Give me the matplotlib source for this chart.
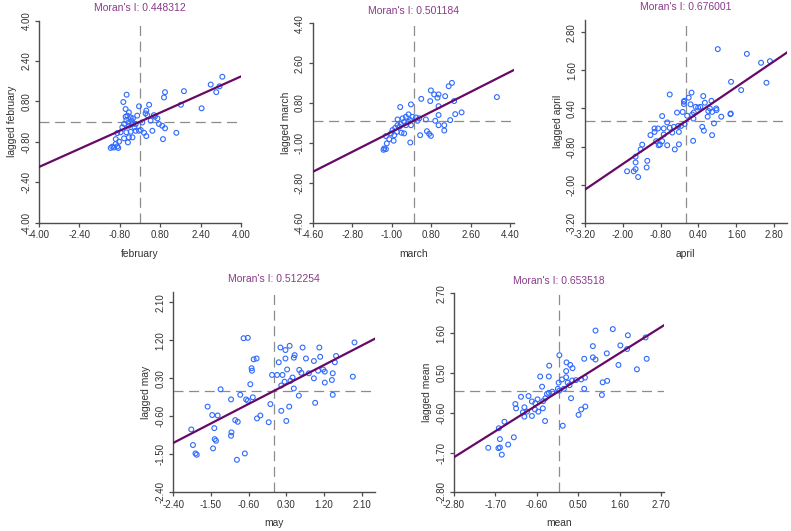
import numpy as np
import matplotlib
matplotlib.use("Agg")
import matplotlib.pyplot as plt

plt.rcParams['font.family'] = ['Liberation Sans', 'DejaVu Sans']

# ---------------- data ----------------
variables = ["february", "march", "april", "may", "mean"]
moran_i = [0.448312, 0.501184, 0.676001, 0.512254, 0.653518]

feb_x = [3.26, 2.80, 3.15, 3.02, 1.74, 0.99, 0.95, -0.53, -0.66, -0.04, 0.36, 2.44, 1.62, -0.57,
         -0.44, 0.25, 0.22, 0.29, 0.55, 0.69, 0.42, -0.57, -0.54, -0.37, -0.28, -0.11, -0.46, -0.63,
         -0.44, -0.30, -0.17, 0.75, 0.88, 0.99, 0.49, 0.03, -0.04, -0.17, -0.37, -0.54, -0.77, -0.90,
         0.16, 0.25, 1.44, -0.44, -0.30, -0.63, -0.48, 0.91, -0.83, -0.96, -0.90, -1.03, -1.16, -1.10,
         -0.86, -0.96, -0.50, -0.33, -0.70, -0.22, 0.09, 0.59]
feb_y = [1.78, 1.47, 1.40, 1.17, 1.21, 1.17, 0.96, 1.07, 0.78, 0.61, 0.67, 0.53, 0.67, 0.50,
         0.37, 0.44, 0.33, 0.26, 0.26, 0.13, 0.04, 0.20, 0.07, 0.17, 0.13, 0.24, -0.03, -0.09,
         -0.16, -0.09, -0.09, -0.09, -0.16, -0.26, -0.36, -0.33, -0.36, -0.36, -0.40, -0.42, -0.42, -0.45,
         -0.44, -0.57, -0.44, -0.62, -0.62, -0.66, -0.82, -0.69, -0.79, -0.88, -0.98, -1.02, -1.04, -0.99,
         -1.04, -0.69, 0.24, 0.04, -0.22, -0.22, -0.03, 0.20]

mar_x = [1.75, 1.60, 0.79, 0.94, 1.14, 1.09, 1.44, 0.76, 0.35, 3.80, 1.85, -0.61, -0.12, 1.14,
         2.19, 1.90, 1.14, 1.67, 0.99, 0.56, 0.26, 0.11, -0.05, -0.23, -0.35, -0.50, -0.73, -0.43,
         -0.24, -0.12, -0.35, -0.58, -0.73, -0.96, -0.76, -0.55, -0.43, -0.88, -1.03, -1.26, -1.11,
         -0.91, -1.22, -1.34, -1.26, -1.37, -0.15, 0.30, 0.61, 0.71, 0.79, 1.40, 1.40, 1.14, 0.18,
         -0.15, -0.65, -0.84]
mar_y = [1.71, 1.56, 1.37, 1.19, 1.19, 1.04, 1.11, 0.89, 0.99, 1.07, 0.89, 0.62, 0.74, 0.66,
         0.38, 0.30, 0.26, 0.03, 0.00, 0.06, 0.11, 0.15, 0.18, 0.29, 0.18, 0.11, 0.06, -0.05,
         -0.05, -0.20, -0.20, -0.15, -0.20, -0.42, -0.50, -0.54, -0.57, -0.65, -0.57, -0.69, -0.83,
         -0.90, -1.02, -1.25, -1.28, -1.31, -0.98, -0.65, -0.47, -0.59, -0.68, -0.20, -0.44, -0.20, 0.00,
         0.03, -0.27, -0.32]

apr_x = [1.01, 1.93, 2.38, 2.66, 2.55, 1.43, 1.75, -0.51, 0.18, 0.09, -0.06, -0.06, -0.05, 0.55,
         0.60, 0.81, 0.15, 0.31, 0.39, 0.46, 0.76, 0.96, 0.97, 0.71, 0.83, 0.25, 0.20, 0.69, 1.12,
         1.42, 1.41, 0.89, 0.24, 0.04, -0.28, -0.10, -0.75, -0.59, -0.51, -0.38, -0.24, -0.15, -0.04,
         -0.70, -0.88, -0.99, -0.99, -1.12, -0.70, -0.43, -0.22, 0.52, 0.57, 0.83, 0.23, -0.22, -0.35,
         -0.59, -0.86, -0.94, -0.75, -0.82, -1.38, -1.43, -1.59, -1.59, -1.22, -1.24, -1.59, -1.86,
         -1.65, -1.51]
apr_y = [2.27, 2.12, 1.84, 1.89, 1.21, 1.24, 0.98, 0.84, 0.90, 0.74, 0.61, 0.54, 0.64, 0.79,
         0.58, 0.64, 0.53, 0.45, 0.43, 0.45, 0.40, 0.40, 0.35, 0.32, 0.29, 0.27, 0.21, 0.14, 0.14,
         0.24, 0.22, -0.07, 0.08, 0.17, 0.27, 0.29, 0.16, -0.04, -0.21, -0.18, -0.15, -0.15, -0.09,
         -0.23, -0.23, -0.23, -0.34, -0.44, -0.42, -0.36, -0.34, -0.18, -0.30, -0.44, -0.62, -0.73, -0.89,
         -0.76, -0.76, -0.63, -0.63, -0.74, -0.74, -0.89, -1.12, -1.30, -1.25, -1.46, -1.51, -1.58,
         -1.58, -1.76]

may_x = [-0.72, -0.62, 1.93, 0.16, 0.28, 0.38, 0.69, 1.09, 0.50, 0.48, 0.28, 0.77, 1.11, 1.49,
         0.96, 1.46, 0.12, -0.48, -0.41, -0.53, -0.52, 0.32, 0.61, 0.66, 0.84, 1.06, 1.18, 1.22,
         1.41, 1.89, -0.04, 0.08, 0.21, 0.45, 0.96, 0.40, 0.26, 1.22, 1.39, -0.56, 0.18, 0.48,
         -1.27, -0.80, -1.02, -0.66, -0.50, -0.62, 0.60, 1.41, 0.99, -0.08, -1.58, -1.47, -1.34,
         0.37, 0.18, -0.92, -0.86, -0.40, -0.32, -0.12, 0.30, -1.97, -1.42, -1.01, -1.02, -1.41,
         -1.38, -1.93, -1.45, -1.87, -1.84, -0.69, -0.88]
may_y = [1.25, 1.26, 1.15, 1.03, 0.97, 1.07, 1.03, 1.03, 0.85, 0.79, 0.77, 0.77, 0.81, 0.83,
         0.71, 0.68, 0.68, 0.75, 0.77, 0.54, 0.48, 0.51, 0.50, 0.43, 0.42, 0.48, 0.51, 0.46,
         0.42, 0.34, 0.38, 0.38, 0.38, 0.32, 0.30, 0.24, 0.22, 0.20, 0.26, 0.16, 0.13, 0.06,
         0.04, -0.09, -0.20, -0.20, -0.15, -0.23, -0.11, -0.09, -0.28, -0.31, -0.37, -0.57, -0.58,
         -0.37, -0.47, -0.69, -0.73, -0.65, -0.58, -0.74, -0.71, -0.91, -0.88, -0.98, -1.06, -1.14,
         -1.18, -1.28, -1.36, -1.48, -1.51, -1.48, -1.63]

mean_x = [0.96, 1.42, 1.82, 2.29, 0.89, 1.62, 1.80, 1.26, 2.32, 0.00, 0.66, 0.89, 0.96, 1.57,
          2.06, -0.27, 0.19, 0.29, 0.35, 0.18, -0.51, -0.28, 0.18, 0.07, -0.02, 0.22, 0.34, 0.44,
          0.58, 0.68, 1.15, 1.27, 0.66, -0.46, 0.27, 0.12, -0.04, 0.00, -0.19, -0.28, -0.33, 1.13,
          0.31, -1.02, -0.82, -0.58, -0.37, -0.43, -0.73, -0.64, -1.17, -1.15, -0.93, -0.86, -0.65,
          -0.56, -0.44, -0.97, -0.93, -0.73, 0.58, 0.69, 0.51, -0.38, -1.46, -1.61, 0.09, -1.21,
          -1.58, -1.36, -1.89, -1.62, -1.58, -1.53]
mean_y = [1.67, 1.71, 1.54, 1.48, 1.24, 1.26, 1.16, 1.04, 0.89, 0.99, 0.89, 0.93, 0.87, 0.72,
          0.60, 0.70, 0.79, 0.72, 0.63, 0.55, 0.40, 0.40, 0.38, 0.32, 0.23, 0.23, 0.29, 0.30,
          0.32, 0.37, 0.24, 0.28, 0.06, 0.12, 0.16, 0.06, 0.06, 0.01, -0.02, -0.05, -0.08, -0.11,
          -0.20, -0.16, -0.14, -0.23, -0.20, -0.28, -0.29, -0.34, -0.36, -0.48, -0.45, -0.57, -0.51,
          -0.57, -0.48, -0.59, -0.71, -0.69, -0.51, -0.43, -0.66, -0.83, -0.85, -1.03, -0.96, -1.28,
          -1.33, -1.48, -1.57, -1.58, -1.56, -1.76]

xs = [feb_x, mar_x, apr_x, may_x, mean_x]
ys = [feb_y, mar_y, apr_y, may_y, mean_y]

ticks = [
    [-4.00, -2.40, -0.80, 0.80, 2.40, 4.00],
    [-4.60, -2.80, -1.00, 0.80, 2.60, 4.40],
    [-3.20, -2.00, -0.80, 0.40, 1.60, 2.80],
    [-2.40, -1.50, -0.60, 0.30, 1.20, 2.10],
    [-2.80, -1.70, -0.60, 0.50, 1.60, 2.70],
]
xlims = [(-4.0, 4.0), (-4.6, 4.58), (-3.2, 3.2), (-2.4, 2.42), (-2.8, 2.78)]
ylims = [(-4.0, 4.0), (-4.6, 4.4), (-3.2, 3.2), (-2.4, 2.35), (-2.8, 2.7)]

# axes rectangles in figure fraction
W, H = 791, 531
rects_px = [  # left, top, right, bottom in pixels
    (39.0, 20.7, 241.0, 222.7),
    (312.7, 23.3, 514.0, 222.7),
    (584.7, 19.6, 787.0, 222.7),
    (173.3, 291.8, 375.0, 492.3),
    (454.0, 293.3, 664.0, 492.3),
]

fig = plt.figure(figsize=(W / 100, H / 100), dpi=100)
fig.patch.set_facecolor("white")

axis_col = "#4d4d4d"
text_col = "#333333"
for i, var in enumerate(variables):
    l, t, r, b = rects_px[i]
    ax = fig.add_axes([l / W, 1 - b / H, (r - l) / W, (b - t) / H])
    ax.set_xlim(*xlims[i])
    ax.set_ylim(*ylims[i])
    for s in ["top", "right"]:
        ax.spines[s].set_visible(False)
    for s in ["left", "bottom"]:
        ax.spines[s].set_color(axis_col)
        ax.spines[s].set_linewidth(1.0)
    ax.axvline(0, color="#8c8c8c", lw=0.9, dashes=(8, 4.5), zorder=1)
    ax.axhline(0, color="#8c8c8c", lw=0.9, dashes=(8, 4.5), zorder=1)
    ax.scatter(xs[i], ys[i], s=12, facecolors="none", edgecolors="#2f6bff",
               linewidths=0.8, zorder=3)
    ax.axline((0, 0), slope=moran_i[i], color="#660a66", lw=1.6, zorder=4)
    ax.set_xticks(ticks[i])
    ax.set_yticks(ticks[i])
    ax.set_xticklabels([f"{v:.2f}" for v in ticks[i]])
    ax.set_yticklabels([f"{v:.2f}" for v in ticks[i]], rotation=90, va="center")
    ax.tick_params(axis="both", direction="out", length=3, width=0.9,
                   color=axis_col, labelsize=7, labelcolor=text_col, pad=2.5)
    ax.set_xlabel(var, fontsize=7.4, color=text_col, labelpad=6)
    ax.set_ylabel("lagged " + var, fontsize=7.4, color=text_col, labelpad=3)
    ax.set_title(f"Moran's I: {moran_i[i]:.6f}", fontsize=7.5, color="#8a3a8a", pad=7)
    ax.set_facecolor("none")

fig.savefig("out.png", dpi=100, facecolor="white")
